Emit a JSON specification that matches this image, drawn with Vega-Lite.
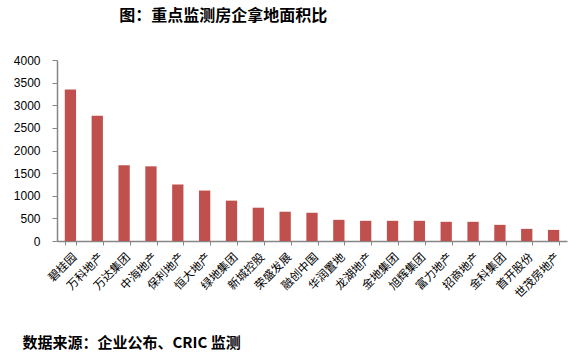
{
  "$schema": "https://vega.github.io/schema/vega-lite/v6.json",
  "autosize": "none",
  "width": 510,
  "height": 181,
  "padding": {"left": 57, "top": 60, "right": 16, "bottom": 116},
  "background": "white",
  "title": {
    "text": "图：重点监测房企拿地面积比",
    "anchor": "start",
    "dx": 106,
    "offset": 30,
    "font": "Noto Sans CJK SC",
    "fontSize": 16,
    "fontWeight": "bold",
    "color": "#000000"
  },
  "data": {
    "values": [
      {"company": "碧桂园", "area": 3346},
      {"company": "万科地产", "area": 2766},
      {"company": "万达集团", "area": 1673},
      {"company": "中海地产", "area": 1650},
      {"company": "保利地产", "area": 1249},
      {"company": "恒大地产", "area": 1115},
      {"company": "绿地集团", "area": 892},
      {"company": "新城控股", "area": 736},
      {"company": "荣盛发展", "area": 647},
      {"company": "融创中国", "area": 624},
      {"company": "华润置地", "area": 468},
      {"company": "龙湖地产", "area": 446},
      {"company": "金地集团", "area": 446},
      {"company": "旭辉集团", "area": 446},
      {"company": "富力地产", "area": 424},
      {"company": "招商地产", "area": 424},
      {"company": "金科集团", "area": 357},
      {"company": "首开股份", "area": 268},
      {"company": "世茂房地产", "area": 245}
    ]
  },
  "mark": {"type": "bar", "color": "#C0504D"},
  "encoding": {
    "x": {
      "field": "company",
      "type": "nominal",
      "sort": null,
      "scale": {"paddingInner": 0.58, "paddingOuter": 0.29},
      "axis": {
        "title": "数据来源：企业公布、CRIC 监测",
        "titleFont": "Noto Sans CJK SC",
        "titleFontSize": 15,
        "titleFontWeight": "bold",
        "titleColor": "#000000",
        "titleAnchor": "start",
        "titleAlign": "left",
        "titleBaseline": "middle",
        "titleX": -35,
        "titleY": 101,
        "labelAngle": -45,
        "labelFont": "Noto Sans CJK SC",
        "labelFontSize": 11.5,
        "labelColor": "#000000",
        "labelPadding": 6,
        "tickBand": "extent",
        "tickSize": 4,
        "tickColor": "#868686",
        "domainColor": "#868686",
        "domainWidth": 1.5
      }
    },
    "y": {
      "field": "area",
      "type": "quantitative",
      "scale": {"domain": [0, 4000], "nice": false},
      "axis": {
        "title": null,
        "values": [0, 500, 1000, 1500, 2000, 2500, 3000, 3500, 4000],
        "format": "d",
        "grid": false,
        "labelFont": "Liberation Sans",
        "labelFontSize": 12,
        "labelColor": "#000000",
        "labelPadding": 12,
        "tickSize": 5,
        "tickColor": "#868686",
        "domainColor": "#868686",
        "domainWidth": 1.5
      }
    }
  },
  "config": {"view": {"stroke": null}}
}
